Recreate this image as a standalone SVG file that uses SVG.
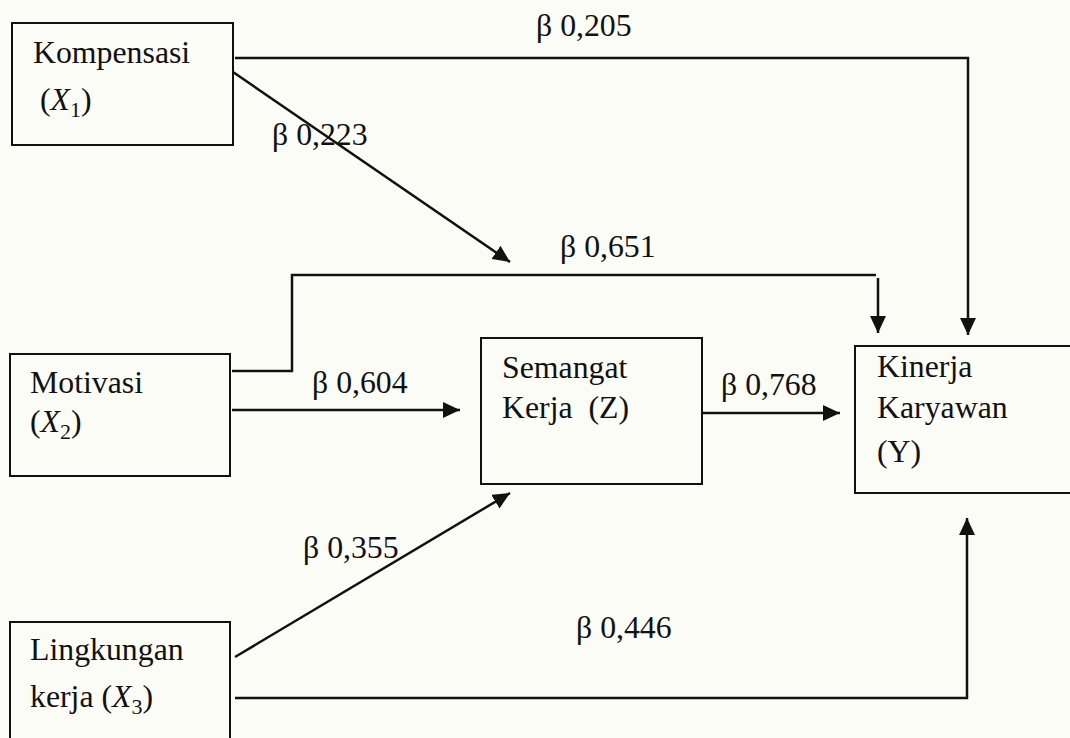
<svg xmlns="http://www.w3.org/2000/svg" width="1070" height="738" viewBox="0 0 1070 738">
  <style>
    .box { fill: none; stroke: #111; stroke-width: 2; }
    .txt { font-size: 31.8px; fill: #111; white-space: pre; }
    .math { font-style: italic; }
    .sub { font-size: 22px; font-style: normal; }
    .edge { fill: none; stroke: #111; stroke-width: 2.5; }
  </style>
  <defs>
    <marker id="arrow" markerUnits="userSpaceOnUse" markerWidth="17" markerHeight="16" refX="17" refY="8" orient="auto">
      <path d="M0,0 L17,8 L0,16 z" fill="#111"/>
    </marker>
  </defs>

  <rect width="1070" height="738" fill="#fcfcf7"/>

  <g font-family="Liberation Serif, Times New Roman, serif">
  <!-- connectors -->
  <g id="connectors">
    <polyline class="edge" points="235,58 968,58 968,335" marker-end="url(#arrow)"/>
    <line class="edge" x1="233" y1="72" x2="510" y2="262" marker-end="url(#arrow)"/>
    <polyline class="edge" points="232,371 292,371 292,275 876,275"/>
    <line class="edge" x1="878" y1="278" x2="878" y2="333" marker-end="url(#arrow)"/>
    <line class="edge" x1="232" y1="410" x2="460" y2="410" marker-end="url(#arrow)"/>
    <line class="edge" x1="703" y1="413" x2="840" y2="413" marker-end="url(#arrow)"/>
    <line class="edge" x1="235" y1="657" x2="510" y2="493" marker-end="url(#arrow)"/>
    <polyline class="edge" points="235,698 967,698 967,518" marker-end="url(#arrow)"/>

    <text class="txt" x="536" y="36">β 0,205</text>
    <text class="txt" x="272" y="145">β 0,223</text>
    <text class="txt" x="560" y="257">β 0,651</text>
    <text class="txt" x="312" y="393">β 0,604</text>
    <text class="txt" x="721" y="395">β 0,768</text>
    <text class="txt" x="303" y="558">β 0,355</text>
    <text class="txt" x="576" y="638">β 0,446</text>
  </g>

  <!-- nodes -->
  <g id="kompensasi">
    <rect class="box" x="12" y="23" width="221" height="122"/>
    <text class="txt" x="33" y="63">Kompensasi</text>
    <text class="txt" x="40" y="110">(<tspan class="math">X</tspan><tspan class="sub" dy="7">1</tspan><tspan dy="-7">)</tspan></text>
  </g>

  <g id="motivasi">
    <rect class="box" x="10" y="354" width="220" height="122"/>
    <text class="txt" x="30" y="393">Motivasi</text>
    <text class="txt" x="30" y="432">(<tspan class="math">X</tspan><tspan class="sub" dy="7">2</tspan><tspan dy="-7">)</tspan></text>
  </g>

  <g id="lingkungan">
    <rect class="box" x="10" y="622" width="220" height="125"/>
    <text class="txt" x="30" y="660">Lingkungan</text>
    <text class="txt" x="30" y="707">kerja (<tspan class="math">X</tspan><tspan class="sub" dy="7">3</tspan><tspan dy="-7">)</tspan></text>
  </g>

  <g id="semangat">
    <rect class="box" x="481" y="338" width="221" height="146"/>
    <text class="txt" x="502" y="378">Semangat</text>
    <text class="txt" x="502" y="418">Kerja  (Z)</text>
  </g>

  <g id="kinerja">
    <rect class="box" x="855" y="346" width="230" height="147"/>
    <text class="txt" x="877" y="377">Kinerja</text>
    <text class="txt" x="877" y="418">Karyawan</text>
    <text class="txt" x="877" y="462">(Y)</text>
  </g>
  </g>
</svg>
